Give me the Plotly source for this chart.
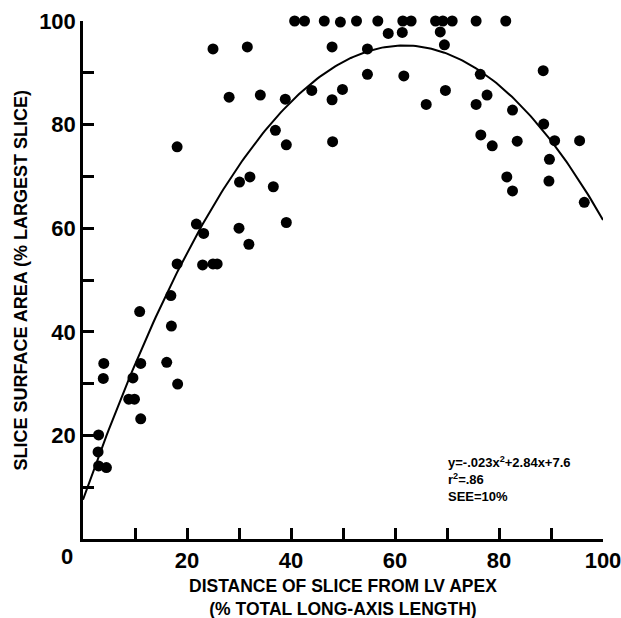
import numpy as np
import plotly.graph_objects as go

# Scatter data: distance of slice from LV apex (% long-axis) vs slice area (% largest slice)
dist_pct = [3.0, 2.9, 3.0, 4.5, 3.9, 4.0, 8.8, 9.9, 9.6, 11.1, 11.1, 10.9, 16.1, 17.0, 16.9, 18.2,
            18.1, 18.1, 21.8, 23.2, 23.0, 25.0, 25.8, 25.0, 28.1, 30.1, 30.0, 31.6, 32.1, 31.9,
            34.1, 36.6, 37.0, 38.9, 39.1, 39.1, 40.7, 42.6, 44.0, 46.4, 47.9, 47.9, 48.0, 49.5,
            49.9, 52.6, 54.8, 54.7, 54.7, 56.7, 58.7, 61.5, 63.1, 61.4, 61.7, 66.0, 67.8, 69.2,
            71.0, 68.7, 69.5, 69.7, 75.6, 76.4, 75.6, 77.7, 76.5, 78.7, 81.3, 82.6, 83.5, 81.5,
            82.6, 88.5, 88.6, 90.7, 89.7, 89.6, 95.5, 96.4]
area_pct = [20.1, 16.8, 14.1, 13.8, 31.0, 33.9, 27.0, 27.0, 31.1, 33.9, 23.2, 43.9, 34.1, 41.1, 47.0, 29.9,
            53.1, 75.7, 60.8, 59.0, 52.9, 53.1, 53.1, 94.6, 85.3, 68.9, 60.0, 95.0, 69.9, 56.9,
            85.7, 68.0, 78.9, 84.9, 76.1, 61.1, 100.0, 100.0, 86.6, 100.0, 95.0, 84.8, 76.7, 99.8,
            86.8, 100.0, 100.2, 94.6, 89.7, 100.0, 97.6, 100.0, 100.0, 97.8, 89.4, 83.9, 100.0, 100.0,
            100.0, 97.9, 95.4, 86.6, 100.0, 89.7, 83.9, 85.7, 78.0, 75.9, 100.0, 82.8, 76.8, 69.9,
            67.2, 90.4, 80.1, 76.9, 73.3, 69.1, 76.9, 65.0]

# Regression coefficients printed on the chart: y = a*x^2 + b*x + c
fit_a = -0.023
fit_b = 2.84
fit_c = 7.6

x_tickvals = [20, 40, 60, 80, 100]
x_ticktext = ["20", "40", "60", "80", "100"]
y_tickvals = [20, 40, 60, 80, 100]
y_ticktext = ["20", "40", "60", "80", "100"]

fit_x = np.linspace(0, 100, 201)
fit_y = fit_a * fit_x ** 2 + fit_b * fit_x + fit_c

FONT = "Liberation Sans, Arial, sans-serif"

fig = go.Figure()
fig.add_trace(go.Scatter(x=fit_x, y=fit_y, mode="lines",
                         line=dict(color="black", width=2), hoverinfo="skip",
                         showlegend=False))
fig.add_trace(go.Scatter(x=dist_pct, y=area_pct, mode="markers",
                         marker=dict(color="black", size=11, line=dict(width=0)),
                         cliponaxis=False, showlegend=False))

W, H = 621, 618
ml, mr, mt, mb = 82.5, 18.3, 20.7, 78.8
pw = W - ml - mr
ph = H - mt - mb

def px_to_paper_x(px):
    return (px - ml) / pw

def px_to_paper_y(py):
    return (H - mb - py) / ph

axis_common = dict(showline=True, linecolor="black", linewidth=2.5,
                   ticks="inside", ticklen=11, tickwidth=2.5, tickcolor="black",
                   minor=dict(tick0=0, dtick=10, ticks="inside", ticklen=11,
                              tickwidth=2.5, tickcolor="black", showgrid=False),
                   showgrid=False, zeroline=False, automargin=False,
                   ticklabeloverflow="allow",
                   tickfont=dict(family=FONT, size=22, color="black", weight="bold"))

fig.update_layout(
    width=W, height=H,
    margin=dict(l=ml, r=mr, t=mt, b=mb, pad=0),
    plot_bgcolor="white", paper_bgcolor="white",
    font=dict(family=FONT, color="black"),
    xaxis=dict(range=[0, 100], tickmode="array", tickvals=x_tickvals, ticktext=x_ticktext,
               ticklabelstandoff=0, **axis_common),
    yaxis=dict(range=[0, 100], tickmode="array", tickvals=y_tickvals, ticktext=y_ticktext,
               ticklabelstandoff=0, **axis_common),
)

annotations = [
    dict(text="0", x=px_to_paper_x(66), y=px_to_paper_y(556.5),
         font=dict(family=FONT, size=22, color="black", weight="bold")),
    dict(text="DISTANCE OF SLICE FROM LV APEX<br>(% TOTAL LONG-AXIS LENGTH)",
         x=px_to_paper_x(343), y=px_to_paper_y(598),
         font=dict(family=FONT, size=17.5, color="black", weight="bold")),
    dict(text="SLICE SURFACE AREA (% LARGEST SLICE)", textangle=-90,
         x=px_to_paper_x(21), y=px_to_paper_y(280),
         font=dict(family=FONT, size=18, color="black", weight="bold")),
    dict(text="y=-.023x<sup>2</sup>+2.84x+7.6<br>r<sup>2</sup>=.86<br>SEE=10%",
         x=px_to_paper_x(446), y=px_to_paper_y(479), xanchor="left", align="left",
         font=dict(family=FONT, size=13, color="black", weight="bold")),
]
for a in annotations:
    a.setdefault("xanchor", "center")
    a.update(xref="paper", yref="paper", yanchor="middle", showarrow=False)
fig.update_layout(annotations=annotations)

fig.write_html("out.html", config={"displayModeBar": False},
               post_script="document.body.style.margin='0px';document.body.style.overflow='hidden';")
